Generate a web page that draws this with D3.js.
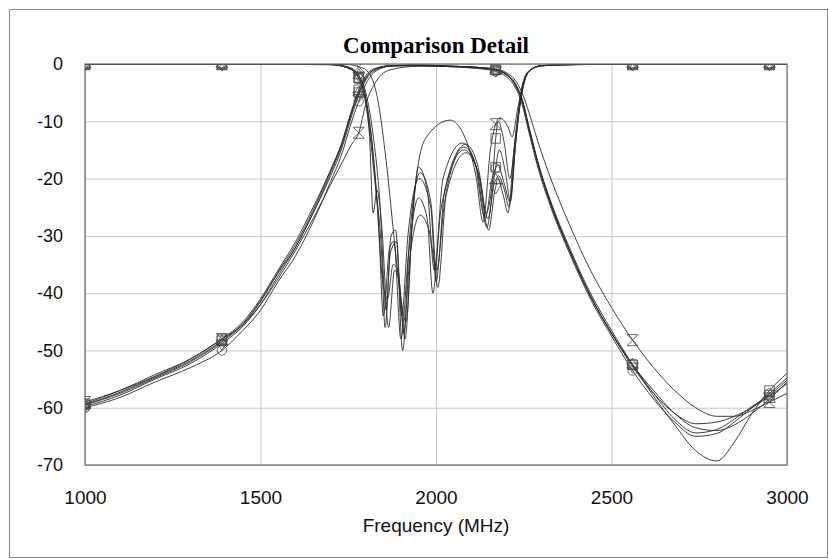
<!DOCTYPE html>
<html>
<head>
<meta charset="utf-8">
<script src="https://cdn.jsdelivr.net/npm/d3@7"></script>
<style>
  body { margin: 0; background: #fff; }
  svg { display: block; }
</style>
</head>
<body>
<div id="canvas"></div>
<script>
(function() {
  'use strict';

  // frequency grid for the transmission curves (MHz)
  const f21 = [1000, 1100, 1200, 1300, 1390, 1450, 1500, 1550, 1600, 1650,
    1700, 1730, 1760, 1780, 1800, 1830, 1870, 1950, 2050, 2120,
    2170, 2200, 2225, 2245, 2265, 2290, 2330, 2380, 2440, 2500,
    2560, 2620, 2680, 2740, 2800, 2850, 2900, 2950, 3000];

  // transmission (dB), one list per trace
  const s21a = [-59.5, -57.5, -54.8, -52, -48.5, -45.5, -41.5, -36.5, -32, -26,
    -19, -14.5, -8.5, -5, -2.5, -0.8, -0.3, -0.2, -0.4, -0.6,
    -1, -1.8, -3.5, -6.2, -11.2, -17.2, -25, -32.5, -40.5, -47,
    -52.5, -57, -61, -63.5, -64, -63, -61, -58.5, -55.5];
  const s21b = [-60, -58.2, -55.5, -53, -50, -46.5, -43, -38, -33.5, -27.5,
    -20.5, -16, -10, -6.5, -3.5, -1.2, -0.4, -0.3, -0.5, -0.8,
    -1.3, -2.2, -4, -7, -12, -18, -25.5, -33, -41, -47.5,
    -53.5, -58.5, -62.5, -65, -64.5, -62.5, -60, -57.5, -54.8];
  const s21c = [-59, -57, -54.5, -51.5, -48, -45.5, -42, -37.5, -32.5, -27,
    -21, -17.5, -14, -12, -7, -3, -1, -0.4, -0.4, -0.6,
    -0.9, -1.5, -2.8, -5, -8.5, -13.5, -20.5, -28, -36, -42.5,
    -48.2, -53, -57, -60, -61.5, -61.5, -60.5, -59, -57.5];
  const s21d = [-59.5, -57.3, -54.6, -51.8, -48.3, -45.3, -41.3, -36.3, -31.5, -25.5,
    -18.5, -14, -8, -4.5, -2, -0.7, -0.3, -0.2, -0.4, -0.6,
    -1, -1.7, -3.3, -6, -11, -17, -24.5, -32, -40, -46.5,
    -52.5, -58, -63, -67.5, -69.3, -66, -61, -57, -54];
  const s21e = [-59.8, -57.8, -55, -52.3, -48.8, -45.8, -42, -37, -32, -26,
    -19.5, -15, -9, -5.5, -2.8, -1, -0.35, -0.25, -0.5, -0.7,
    -1.1, -1.9, -3.6, -6.5, -11.5, -17.5, -25, -32.5, -40.5, -47,
    -52.8, -57.5, -61, -62.8, -62.5, -61.5, -60, -58, -55.8];
  const s21f = [-59.3, -57, -54.2, -51.5, -48, -45, -41, -36, -31, -25,
    -18.5, -14.2, -8.3, -5, -2.4, -0.8, -0.3, -0.2, -0.4, -0.6,
    -1, -1.8, -3.5, -6.3, -11.2, -17.2, -24.8, -32.5, -40.5, -47,
    -52.5, -57.5, -62, -64.4, -63.8, -62, -59.8, -57.8, -55.2];

  // reflection curves: [MHz, dB] pairs, one list per trace
  const s11a = [[1000, -0.05], [1390, -0.05], [1700, -0.1], [1750, -0.6], [1780, -2], [1800, -5],
    [1820, -12], [1840, -24], [1858, -43], [1872, -30], [1885, -29], [1905, -50],
    [1925, -30], [1955, -19], [1985, -24], [2005, -39], [2030, -22], [2080, -14.5],
    [2115, -18], [2145, -28.5], [2165, -21], [2170, -20.3], [2178, -19.5], [2195, -22], [2208, -25],
    [2225, -15], [2240, -6], [2260, -1.5], [2300, -0.3], [2400, -0.1], [2560, -0.05],
    [2950, -0.05], [3000, -0.05]];
  const s11b = [[1000, -0.05], [1390, -0.05], [1700, -0.1], [1760, -1], [1780, -2.6], [1790, -4],
    [1810, -12], [1821, -26], [1832, -22], [1845, -28], [1865, -46], [1882, -36],
    [1895, -38], [1912, -48], [1930, -30], [1950, -18], [1975, -22], [1995, -36],
    [2020, -20], [2075, -13.8], [2110, -17], [2140, -27], [2160, -20], [2170, -18.2], [2175, -17.6],
    [2195, -21], [2210, -24], [2228, -13], [2245, -5], [2265, -1.2], [2300, -0.3],
    [2400, -0.1], [2560, -0.05], [2950, -0.05], [3000, -0.05]];
  const s11c = [[1000, -0.05], [1390, -0.05], [1750, -0.1], [1780, -0.5], [1800, -1], [1830, -5],
    [1860, -18], [1880, -30], [1900, -41], [1915, -45], [1935, -25], [1970, -13],
    [2040, -9.8], [2090, -14], [2115, -20], [2134, -27.6], [2155, -15], [2170, -10.5], [2182, -9.4],
    [2205, -11], [2217, -12.7], [2232, -8], [2250, -3], [2275, -0.8], [2320, -0.2],
    [2400, -0.05], [2560, -0.05], [2950, -0.05], [3000, -0.05]];
  const s11d = [[1000, -0.05], [1390, -0.05], [1700, -0.1], [1755, -0.8], [1780, -2.4], [1785, -3],
    [1805, -9], [1825, -20], [1845, -33], [1855, -46], [1870, -33], [1888, -31],
    [1902, -44], [1920, -30], [1952, -20], [1985, -25], [2000, -38], [2025, -22],
    [2085, -14], [2120, -18], [2148, -27], [2170, -18], [2180, -15], [2198, -19],
    [2212, -24], [2228, -13], [2245, -4.5], [2265, -1.2], [2300, -0.3], [2400, -0.1],
    [2560, -0.05], [2950, -0.05], [3000, -0.05]];
  const s11e = [[1000, -0.05], [1390, -0.05], [1700, -0.1], [1750, -0.5], [1780, -2], [1800, -6],
    [1820, -15], [1838, -30], [1850, -44], [1868, -32], [1880, -31], [1900, -48],
    [1922, -33], [1950, -23.4], [1975, -27], [1991, -40], [2015, -25], [2080, -15],
    [2120, -19], [2150, -29], [2168, -22], [2170, -21.5], [2176, -20], [2192, -23], [2205, -26],
    [2222, -15], [2240, -6], [2262, -1.5], [2300, -0.3], [2400, -0.1], [2560, -0.05],
    [2950, -0.05], [3000, -0.05]];
  const s11f = [[1000, -0.05], [1390, -0.05], [1700, -0.1], [1760, -1], [1780, -2.5], [1790, -3.5],
    [1810, -10], [1830, -22], [1848, -38], [1862, -41], [1878, -35], [1892, -36],
    [1908, -47], [1925, -34], [1955, -26.4], [1980, -29], [2002, -36], [2025, -24],
    [2085, -15.5], [2125, -20], [2142, -26], [2160, -21], [2170, -13], [2177, -10],
    [2195, -14], [2210, -20], [2228, -12], [2245, -5], [2265, -1.3], [2300, -0.3],
    [2400, -0.1], [2560, -0.05], [2950, -0.05], [3000, -0.05]];

  const markerFreqs = [1000, 1390, 1780, 2170, 2560, 2950];
  const xTicks = [1000, 1500, 2000, 2500, 3000];
  const yTicks = [0, -10, -20, -30, -40, -50, -60, -70];

  const traces = [
    { s21: s21a, s11: s11a, shape: 'triangle' },
    { s21: s21b, s11: s11b, shape: 'circle' },
    { s21: s21c, s11: s11c, shape: 'hourglass' },
    { s21: s21d, s11: s11d, shape: 'square' },
    { s21: s21e, s11: s11e, shape: 'triangleDown' },
    { s21: s21f, s11: s11f, shape: 'square' }
  ];

  const w = 828;
  const h = 559;
  const left = 85;
  const right = 787;
  const top = 64;
  const bottom = 465;

  const xScale = d3.scaleLinear().domain([1000, 3000]).range([left, right]);
  const yScale = d3.scaleLinear().domain([-70, 0]).range([bottom, top]);

  const svg = d3.select('#canvas')
    .append('svg')
    .attr('width', w)
    .attr('height', h);

  // outer frame
  svg.append('rect')
    .attr('x', 9.5).attr('y', 9.5)
    .attr('width', 818).attr('height', 548)
    .attr('fill', 'none')
    .attr('stroke', '#8a8a8a');

  svg.append('defs').append('clipPath')
    .attr('id', 'plot-clip')
    .append('rect')
    .attr('x', left).attr('y', top)
    .attr('width', right - left).attr('height', bottom - top);

  // grid
  const xGrid = d3.axisBottom(xScale).tickValues(xTicks).tickSize(-(bottom - top)).tickFormat('');
  svg.append('g')
    .attr('class', 'grid')
    .attr('transform', 'translate(0,' + bottom + ')')
    .call(xGrid);
  const yGrid = d3.axisLeft(yScale).tickValues(yTicks).tickSize(-(right - left)).tickFormat('');
  svg.append('g')
    .attr('class', 'grid')
    .attr('transform', 'translate(' + left + ',0)')
    .call(yGrid);
  svg.selectAll('.grid .domain').remove();
  svg.selectAll('.grid line').attr('stroke', '#c8c8c8').attr('stroke-width', 1);

  // axes labels
  const xAxis = d3.axisBottom(xScale).tickValues(xTicks).tickSize(0).tickPadding(26)
    .tickFormat((d) => String(d));
  const gx = svg.append('g')
    .attr('id', 'x-axis')
    .attr('transform', 'translate(0,' + bottom + ')')
    .call(xAxis);
  gx.select('.domain').remove();
  gx.selectAll('text')
    .attr('font-family', 'Liberation Sans, Arial, sans-serif')
    .attr('font-size', 19)
    .attr('fill', '#111');

  const yAxis = d3.axisLeft(yScale).tickValues(yTicks).tickSize(0).tickPadding(22)
    .tickFormat((d) => String(d));
  const gy = svg.append('g')
    .attr('id', 'y-axis')
    .attr('transform', 'translate(' + left + ',0)')
    .call(yAxis);
  gy.select('.domain').remove();
  gy.selectAll('text')
    .attr('font-family', 'Liberation Sans, Arial, sans-serif')
    .attr('font-size', 18)
    .attr('fill', '#111');

  svg.append('text')
    .attr('x', (left + right) / 2)
    .attr('y', 532)
    .attr('text-anchor', 'middle')
    .attr('font-family', 'Liberation Sans, Arial, sans-serif')
    .attr('font-size', 19)
    .attr('fill', '#111')
    .text('Frequency (MHz)');

  svg.append('text')
    .attr('x', (left + right) / 2)
    .attr('y', 53)
    .attr('text-anchor', 'middle')
    .attr('font-family', 'Liberation Serif, Times New Roman, serif')
    .attr('font-weight', 'bold')
    .attr('font-size', 23)
    .attr('fill', '#000')
    .text('Comparison Detail');

  // curves
  const plot = svg.append('g').attr('clip-path', 'url(#plot-clip)');
  const line = d3.line()
    .x((d) => xScale(d[0]))
    .y((d) => yScale(d[1]))
    .curve(d3.curveMonotoneX);

  traces.forEach((t) => {
    const pts21 = f21.map((f, i) => [f, t.s21[i]]);
    plot.append('path')
      .datum(pts21)
      .attr('d', line)
      .attr('fill', 'none')
      .attr('stroke', '#2a2a2a')
      .attr('stroke-width', 0.9);
    plot.append('path')
      .datum(t.s11)
      .attr('d', line)
      .attr('fill', 'none')
      .attr('stroke', '#2a2a2a')
      .attr('stroke-width', 0.9);
  });

  // marker shapes
  function hourglass(size) {
    const s = size / 2;
    return 'M' + (-s) + ',' + (-s) + 'L' + s + ',' + (-s) + 'L' + (-s) + ',' + s +
      'L' + s + ',' + s + 'Z';
  }
  function markerPath(shape) {
    switch (shape) {
    case 'triangle': return d3.symbol(d3.symbolTriangle, 60)();
    case 'triangleDown': return d3.symbol(d3.symbolTriangle, 60)();
    case 'circle': return d3.symbol(d3.symbolCircle, 70)();
    case 'square': return d3.symbol(d3.symbolSquare, 90)();
    default: return hourglass(11);
    }
  }

  traces.forEach((t) => {
    const pts21 = f21.map((f, i) => [f, t.s21[i]]);
    const marks = pts21.filter((d) => markerFreqs.includes(d[0]))
      .concat(t.s11.filter((d) => markerFreqs.includes(d[0])));
    plot.selectAll(null)
      .data(marks)
      .enter()
      .append('path')
      .attr('d', markerPath(t.shape))
      .attr('transform', (d) => 'translate(' + xScale(d[0]) + ',' + yScale(d[1]) + ')' +
        (t.shape === 'triangleDown' ? ' rotate(180)' : ''))
      .attr('fill', 'none')
      .attr('stroke', '#444')
      .attr('stroke-width', 0.8);
  });

  // plot frame
  svg.append('rect')
    .attr('x', left).attr('y', top)
    .attr('width', right - left).attr('height', bottom - top)
    .attr('fill', 'none')
    .attr('stroke', '#6e6e6e')
    .attr('stroke-width', 1.2);
}());
</script>
</body>
</html>
